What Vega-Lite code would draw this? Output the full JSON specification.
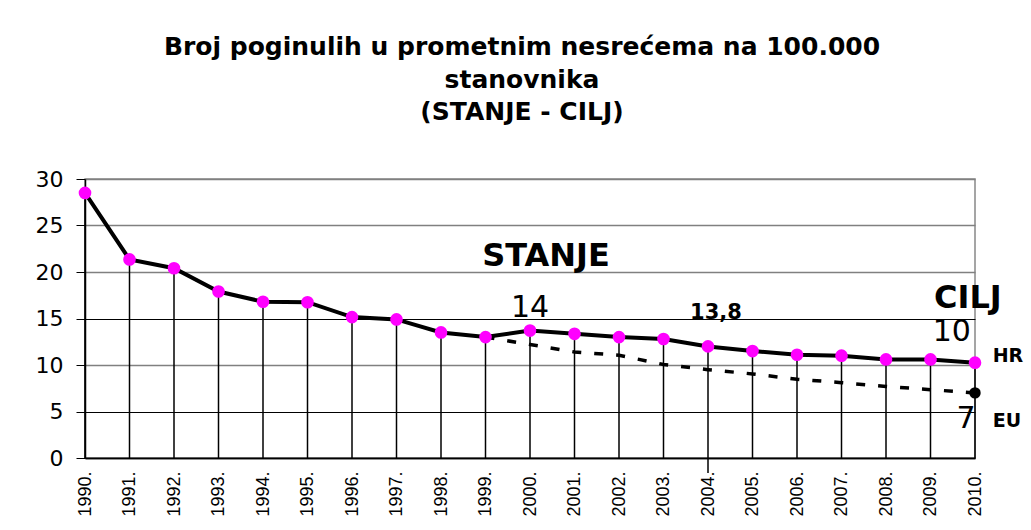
{
  "$schema": "https://vega.github.io/schema/vega-lite/v6.json",
  "autosize": "none",
  "width": 890,
  "height": 279,
  "padding": {"left": 85, "top": 179, "right": 56, "bottom": 72},
  "background": "white",
  "title": {
    "text": ["Broj poginulih u prometnim nesrećema na 100.000", "stanovnika", "(STANJE - CILJ)"],
    "font": "DejaVu Sans",
    "fontSize": 25,
    "fontWeight": "bold",
    "color": "black",
    "lineHeight": 32.5,
    "offset": 43,
    "dx": -8
  },
  "config": {
    "font": "DejaVu Sans",
    "view": {"stroke": "#888888", "strokeWidth": 1.5}
  },
  "datasets": {
    "hr": [
      {"year": 1990, "value": 28.5},
      {"year": 1991, "value": 21.35},
      {"year": 1992, "value": 20.4},
      {"year": 1993, "value": 17.9},
      {"year": 1994, "value": 16.8},
      {"year": 1995, "value": 16.75},
      {"year": 1996, "value": 15.15},
      {"year": 1997, "value": 14.9},
      {"year": 1998, "value": 13.5},
      {"year": 1999, "value": 13.0},
      {"year": 2000, "value": 13.7},
      {"year": 2001, "value": 13.35},
      {"year": 2002, "value": 13.0},
      {"year": 2003, "value": 12.8},
      {"year": 2004, "value": 12.0},
      {"year": 2005, "value": 11.5},
      {"year": 2006, "value": 11.1},
      {"year": 2007, "value": 11.0},
      {"year": 2008, "value": 10.6},
      {"year": 2009, "value": 10.6},
      {"year": 2010, "value": 10.25}
    ],
    "eu": [
      {"year": 1999, "value": 13.0},
      {"year": 2000, "value": 12.2},
      {"year": 2001, "value": 11.4},
      {"year": 2002, "value": 11.05},
      {"year": 2003, "value": 10.05},
      {"year": 2004, "value": 9.5},
      {"year": 2005, "value": 9.04},
      {"year": 2006, "value": 8.47},
      {"year": 2007, "value": 8.1},
      {"year": 2008, "value": 7.7},
      {"year": 2009, "value": 7.35},
      {"year": 2010, "value": 7.0}
    ],
    "notes": [
      {"label": "STANJE", "year": 2000.36, "value": 20.6},
      {"label": "CILJ", "year": 2009.84, "value": 16.1},
      {"label": "14", "year": 2000.0, "value": 15.16},
      {"label": "10", "year": 2009.48, "value": 12.6},
      {"label": "7", "year": 2009.8, "value": 3.19},
      {"label": "13,8", "year": 2004.18, "value": 14.9},
      {"label": "HR", "year": 2010.74, "value": 10.29},
      {"label": "EU", "year": 2010.72, "value": 3.3}
    ]
  },
  "encoding": {
    "x": {
      "field": "year",
      "type": "quantitative",
      "scale": {"domain": [1990, 2010], "nice": false, "zero": false},
      "axis": {
        "title": null,
        "values": [1990, 1991, 1992, 1993, 1994, 1995, 1996, 1997, 1998, 1999, 2000, 2001, 2002, 2003, 2004, 2005, 2006, 2007, 2008, 2009, 2010],
        "labelExpr": "datum.value + '.'",
        "labelAngle": -90,
        "labelAlign": "right",
        "labelBaseline": "middle",
        "labelFont": "Liberation Sans",
        "labelFontSize": 18,
        "labelColor": "black",
        "labelPadding": 13,
        "ticks": false,
        "grid": false,
        "domainColor": "black",
        "domainWidth": 1.5,
        "labelFlush": false,
        "labelOverlap": false
      }
    },
    "y": {
      "field": "value",
      "type": "quantitative",
      "scale": {"domain": [0, 30], "nice": false},
      "axis": {
        "title": null,
        "values": [0, 5, 10, 15, 20, 25, 30],
        "labelFont": "DejaVu Sans",
        "labelFontSize": 22,
        "labelColor": "black",
        "tickSize": 9,
        "tickColor": "black",
        "labelPadding": 13,
        "domainColor": "black",
        "domainWidth": 1.5,
        "grid": true,
        "gridColor": {"condition": {"test": "datum.value == 5 || datum.value == 15 || datum.value == 0", "value": "black"}, "value": "#808080"},
        "gridWidth": {"condition": {"test": "datum.value == 5 || datum.value == 15", "value": 1}, "value": 1.5},
        "gridOpacity": 1,
        "labelFlush": false
      }
    }
  },
  "layer": [
    {
      "data": {"name": "hr"},
      "mark": {"type": "rule", "color": "black", "strokeWidth": 1.5},
      "encoding": {"y2": {"datum": 0}}
    },
    {
      "data": {"name": "hr"},
      "transform": [{"filter": "datum.year == 2004"}],
      "mark": {"type": "rule", "color": "black", "strokeWidth": 1.5, "clip": false},
      "encoding": {"y": {"datum": 0}, "y2": {"datum": -1.6}}
    },
    {
      "data": {"name": "eu"},
      "mark": {"type": "line", "color": "black", "strokeWidth": 3.5, "strokeDash": [9, 13]},
      "encoding": {}
    },
    {
      "data": {"name": "hr"},
      "mark": {"type": "line", "color": "black", "strokeWidth": 4},
      "encoding": {}
    },
    {
      "data": {"name": "hr"},
      "mark": {"type": "circle", "color": "#ff00ff", "opacity": 1, "size": 160},
      "encoding": {}
    },
    {
      "data": {"name": "eu"},
      "transform": [{"filter": "datum.year == 2010"}],
      "mark": {"type": "circle", "color": "black", "opacity": 1, "size": 130},
      "encoding": {}
    },
    {
      "data": {"name": "notes"},
      "transform": [{"filter": {"field": "label", "oneOf": ["STANJE", "CILJ"]}}],
      "mark": {"type": "text", "font": "DejaVu Sans", "fontWeight": "bold", "fontSize": 32, "baseline": "alphabetic", "align": "center", "color": "black", "clip": false},
      "encoding": {"text": {"field": "label"}}
    },
    {
      "data": {"name": "notes"},
      "transform": [{"filter": {"field": "label", "oneOf": ["14", "10", "7"]}}],
      "mark": {"type": "text", "font": "DejaVu Sans", "fontSize": 30, "baseline": "alphabetic", "align": "center", "color": "black", "clip": false},
      "encoding": {"text": {"field": "label"}}
    },
    {
      "data": {"name": "notes"},
      "transform": [{"filter": {"field": "label", "oneOf": ["13,8"]}}],
      "mark": {"type": "text", "font": "DejaVu Sans", "fontWeight": "bold", "fontSize": 21, "baseline": "alphabetic", "align": "center", "color": "black", "clip": false},
      "encoding": {"text": {"field": "label"}}
    },
    {
      "data": {"name": "notes"},
      "transform": [{"filter": {"field": "label", "oneOf": ["HR", "EU"]}}],
      "mark": {"type": "text", "font": "DejaVu Sans", "fontWeight": "bold", "fontSize": 19, "baseline": "alphabetic", "align": "center", "color": "black", "clip": false},
      "encoding": {"text": {"field": "label"}}
    }
  ]
}
